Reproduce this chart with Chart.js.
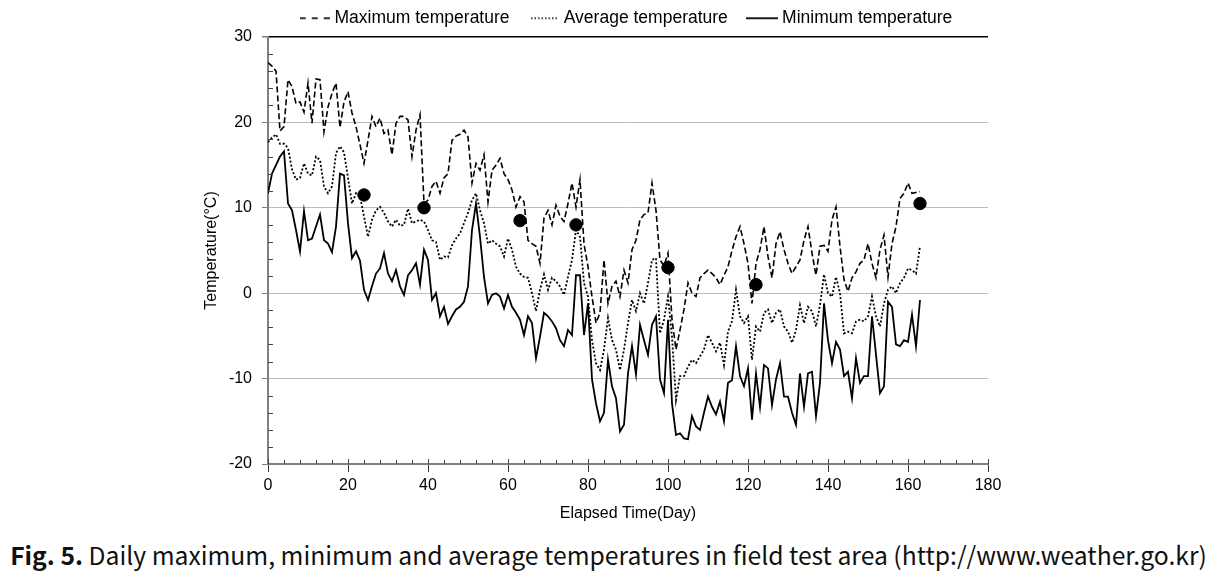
<!DOCTYPE html>
<html><head><meta charset="utf-8">
<script src="https://cdn.jsdelivr.net/npm/chart.js@4.4.1/dist/chart.umd.min.js"></script>
<style>
html,body{margin:0;padding:0;background:#fff;width:1217px;height:578px;overflow:hidden;position:relative}
#wrap{position:absolute;left:0;top:-14px;width:1217px;height:550px}
#cap{position:absolute;left:0;top:538px;width:1217px;text-align:center;font-family:"Noto Sans CJK KR","Noto Sans",sans-serif;font-size:24.7px;white-space:nowrap;color:#111;line-height:32px}
#cap b{font-weight:700}
</style></head>
<body>
<div id="wrap"><canvas id="c" width="1217" height="550"></canvas></div>
<div id="cap"><b>Fig. 5.</b> Daily maximum, minimum and average temperatures in field test area (http://www.weather.go.kr)</div>
<script>
const maxTemp = [27,26.6,26,19,19.5,25,24.2,22.2,22.4,21.2,
24.6,19.9,25.1,25,18.9,21.8,23.4,24.6,19.4,22.4,
23.6,21.1,19.5,17.4,15.2,17.9,20.7,19.5,20.5,18.7,
19.1,16.2,19.9,20.7,20.7,20.3,16,19.1,20.9,10.5,
10.9,12.5,13.1,11.7,13.5,14,17.9,18.4,18.6,19.1,
18.3,12.9,15.2,14.4,16.2,10.7,14.4,15,15.8,14,
13.3,12.1,10.1,11.3,10.7,6.2,5.8,5.5,3.5,8.8,
9.7,8,10.3,9,8.4,10.5,12.9,10.1,13.3,5.8,
3.1,-0.4,-3.5,-2.3,3.9,-1.2,0.8,1.4,-0.4,2.7,
1.2,5.1,6.2,8.6,9.2,9.4,12.9,9.7,3.9,3.2,
4.7,-3.1,-6.6,-4.3,-1.9,1.2,0,-0.4,1.8,2.3,
2.7,2.3,1.8,1,2.1,3.1,5,6.6,7.8,5.8,
3.5,-1.2,3.5,5.1,7.8,4.3,1.8,5.8,7.2,5.1,
3.5,2.3,3.1,3.9,6.2,7.8,4.7,2.1,5.5,5.6,
4.9,8.6,10.1,5.5,1.6,0.2,1.8,2.5,3.5,3.9,
5.8,3.5,1.8,5.1,6.8,1.9,5.8,7.8,11.1,11.7,
12.9,11.7,11.8,11.9];

const avgTemp = [17.7,18.2,18.6,17.5,17.5,17,14.5,13.3,13.5,15.2,
14,13.8,16,15.6,12.5,11.7,12.5,16.4,17.2,16.5,
13.5,10.5,11.7,11.3,9,6.6,8.6,9.7,10.1,9.4,
8.4,7.8,8.6,7.9,8,9.9,8.2,8.4,8.6,8.4,
7.4,6.2,6,3.9,4.3,4.2,5.6,6.4,7,8.2,
9.4,10.9,11.7,9.7,8.2,5.8,6.2,5.8,5.5,4.3,
6.4,5.1,3.1,2.3,1.9,1.8,0,-2.1,0.4,2.2,
0.4,1.8,1.4,0.8,-0.2,1.9,3.9,7.4,6.6,1.2,
-0.4,-5.5,-8.2,-9,-6.6,-2.9,-5.5,-6.6,-9,-6.6,
-3.5,-0.8,-2.1,0,-1.2,1.2,3.9,4.1,-4.7,-3.1,
-0.4,-5.1,-12.5,-9.7,-9.7,-8.6,-7.8,-8.2,-7.4,-6.6,
-4.9,-5.8,-6.8,-5.8,-8.4,-4.5,-3.3,0.4,-2.7,-3.5,
-2.7,-7.8,-3.9,-4.5,-2.3,-1.9,-3.5,-2.3,-1.9,-3.9,
-4.5,-5.8,-4.3,-1.4,-3.5,-1.6,-2.1,-3.9,-1.4,2.2,
0,-0.4,1.9,0,-4.7,-4.5,-4.7,-3.3,-3.1,-3.3,
-2.7,-0.4,-2.7,-3.9,-1.2,0.4,0.8,0,1.2,1.8,
2.9,2.7,2.3,5.5];

const minTemp = [11.7,14,15,16,16.6,10.5,9.7,7.4,4.9,9.6,
6.2,6.4,7.8,9.2,6.2,5.8,4.8,7.8,14,13.8,
8.2,4.1,4.9,3.8,0.4,-0.8,0.8,2.3,2.9,4.7,
2.3,1.4,2.7,0.8,-0.2,2.1,2.7,3.5,1,5.1,
3.9,-0.8,0,-2.7,-1.6,-3.6,-2.7,-1.9,-1.6,-1,
0.8,7.4,10.5,6.6,1.9,-1.2,-0.2,0,-0.4,-1.8,
-0.2,-1.6,-2.3,-3.1,-4.9,-2.7,-3.5,-7.6,-5.1,-2.3,
-2.7,-3.3,-4.1,-5.5,-6.2,-4.3,-4.9,2.1,2.1,-4.9,
-1.2,-10.1,-12.9,-15,-14,-7.8,-10.9,-12.3,-16.2,-15.4,
-9.4,-6.2,-9.5,-3.7,-5.5,-7.2,-3.7,-2.7,-10.1,-11.7,
-3.1,-12.9,-16.6,-16.4,-17,-17.1,-14.4,-15.6,-16,-14,
-12.1,-13.3,-14.2,-12.7,-15,-10.5,-10.2,-6.2,-9.7,-10.9,
-8.8,-14.8,-9.4,-13.3,-8.4,-8.8,-13.1,-10.1,-8.2,-12.1,
-12.1,-14,-15.4,-9.4,-13.3,-9.4,-9.2,-14.4,-10.5,-1.2,
-5.5,-8.2,-5.7,-6.6,-9.7,-9.2,-12.3,-7.6,-10.5,-9.7,
-9.7,-2.7,-7.2,-11.7,-10.9,-1,-1.6,-6,-6.2,-5.5,
-5.7,-2.5,-6.2,-0.8];

const days = maxTemp.map((_, i) => i);

const markDays = [24, 39, 63, 77, 100, 122, 163];
const markValues = [11.5, 10, 8.5, 8, 3, 1, 10.5];

const xTicks = [0, 20, 40, 60, 80, 100, 120, 140, 160, 180];
const yTicks = [-20, -10, 0, 10, 20, 30];

const FONT = '"Liberation Sans", Arial, sans-serif';

const pts = arr => arr.map((v, i) => ({x: days[i], y: v}));

// small legend sample images (line styles)
function legendSample(w, dash, lw) {
  const c = document.createElement('canvas');
  c.width = w; c.height = 4;
  const g = c.getContext('2d');
  g.strokeStyle = '#000'; g.lineWidth = lw; g.setLineDash(dash);
  g.beginPath(); g.moveTo(0, 2); g.lineTo(w, 2); g.stroke();
  return c;
}
const sampleMax = legendSample(30, [6, 6], 1.6);
const sampleAvg = legendSample(26, [1.5, 2], 1.6);
const sampleMin = legendSample(32, [], 1.8);

const minorTicks = {
  id: 'minorTicks',
  afterDraw(chart) {
    const {ctx, scales: {x, y}} = chart;
    ctx.save();
    ctx.strokeStyle = '#444';
    ctx.lineWidth = 1;
    ctx.beginPath();
    for (let v = -18; v < 30; v += 2) {
      if (v % 10 === 0) continue;
      const py = Math.round(y.getPixelForValue(v)) + 0.5;
      ctx.moveTo(x.left, py); ctx.lineTo(x.left + 5, py);
    }
    for (let d = 4; d < 180; d += 4) {
      if (d % 20 === 0) continue;
      const px = Math.round(x.getPixelForValue(d)) + 0.5;
      ctx.moveTo(px, y.bottom); ctx.lineTo(px, y.bottom - 4);
    }
    xTicks.forEach(d => {
      const px = Math.round(x.getPixelForValue(d)) + 0.5;
      ctx.moveTo(px, y.bottom); ctx.lineTo(px, y.bottom - 5);
    });
    ctx.stroke();
    ctx.restore();
  }
};

new Chart(document.getElementById('c'), {
  type: 'line',
  data: {
    datasets: [
      {label: 'Maximum temperature', data: pts(maxTemp), borderColor: '#000', backgroundColor: '#000', borderWidth: 1.6, borderDash: [6, 3], pointRadius: 0, pointStyle: sampleMax, tension: 0, fill: false, order: 1},
      {label: 'Average temperature', data: pts(avgTemp), borderColor: '#000', backgroundColor: '#000', borderWidth: 1.8, borderDash: [2, 2], pointRadius: 0, pointStyle: sampleAvg, tension: 0, fill: false, order: 1},
      {label: 'Minimum temperature', data: pts(minTemp), borderColor: '#000', backgroundColor: '#000', borderWidth: 1.8, pointRadius: 0, pointStyle: sampleMin, tension: 0, fill: false, order: 1},
      {label: 'Measured', data: markDays.map((d, i) => ({x: d, y: markValues[i]})), showLine: false, pointRadius: 6.2, pointBackgroundColor: '#000', pointBorderColor: '#000', borderColor: '#000', order: 0}
    ]
  },
  options: {
    responsive: false,
    animation: false,
    devicePixelRatio: 1,
    layout: {padding: {left: 198, right: 229, top: 0, bottom: 9}},
    plugins: {
      legend: {
        position: 'top', fullSize: false,
        labels: {
          usePointStyle: true, pointStyleWidth: 22, padding: 23.5, color: '#000',
          font: {family: FONT, size: 17.5},
          filter: item => item.datasetIndex < 3
        }
      },
      tooltip: {enabled: false}
    },
    scales: {
      x: {
        type: 'linear', min: 0, max: 180,
        afterBuildTicks: s => { s.ticks = xTicks.map(v => ({value: v})); },
        ticks: {color: '#000', font: {family: FONT, size: 16}, padding: 4, maxRotation: 0},
        grid: {drawOnChartArea: false, tickLength: 8, tickColor: '#333'},
        border: {color: '#808080', width: 2},
        title: {display: true, text: 'Elapsed Time(Day)', color: '#000', font: {family: FONT, size: 16}, padding: {top: 4, bottom: 4}},
        afterFit: s => { s.height = 63; }
      },
      y: {
        min: -20, max: 30,
        afterBuildTicks: s => { s.ticks = yTicks.map(v => ({value: v})); },
        ticks: {color: '#000', font: {family: FONT, size: 16}, padding: 10},
        grid: {
          color: c => c.tick.value === 30 ? '#000' : (c.tick.value === -20 ? 'rgba(0,0,0,0)' : '#bdbdbd'),
          lineWidth: c => c.tick.value === 30 ? 1.5 : 1,
          tickLength: 6, tickColor: '#808080'
        },
        border: {color: '#808080', width: 2},
        title: {display: true, text: 'Temperature(°C)', color: '#000', font: {family: FONT, size: 16}, padding: {top: 4, bottom: 4}},
        afterFit: s => { s.width = 70; }
      }
    }
  },
  plugins: [minorTicks]
});
</script>
</body></html>
